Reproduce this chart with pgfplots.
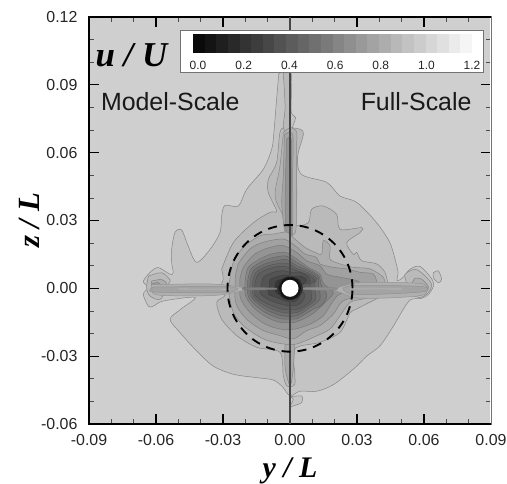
\documentclass[border=0pt]{standalone}
\usepackage{fontspec}
\setmainfont{Liberation Sans}
\newfontfamily\tnr{Liberation Serif}
\usepackage{pgfplots}
\pgfplotsset{compat=1.18}
\pgfplotsset{lv/.style n args={2}{smooth,tension=0.5,fill=black!#1,draw=black!#2,line width=0.5pt}}
\begin{document}
\begin{tikzpicture}[x=1bp,y=1bp]
\path[use as bounding box] (-89,-60) rectangle (418,424);
\begin{axis}[at={(0,0)},anchor=south west,scale only axis,width=402bp,height=407bp,
 xmin=-0.09,xmax=0.09,ymin=-0.06,ymax=0.12,
 xtick={-0.09,-0.06,-0.03,0,0.03,0.06,0.09},
 ytick={-0.06,-0.03,0,0.03,0.06,0.09,0.12},
 minor tick num=2,tick align=inside,tick pos=both,
 major tick length=10bp,minor tick length=5bp,
 axis line style={line width=1.3pt},
 major tick style={line width=1.2pt,black},minor tick style={line width=0.7pt,black!70},
 scaled ticks=false,
 xticklabel pos=bottom,yticklabel pos=left,
 /pgf/number format/.cd,fixed,fixed zerofill,precision=2,assume math mode=true,/pgfplots/.cd,
 tick label style={font=\fontsize{16}{16}\selectfont,text=black!85},
 x tick label style={yshift=-7bp},
 y tick label style={xshift=-8bp},
 xlabel={\tnr\bfseries\itshape y / L},ylabel={\tnr\bfseries\itshape z / L},
 xlabel style={font=\fontsize{30}{30}\selectfont,at={(axis description cs:0.5,-0.114)},anchor=center},
 ylabel style={font=\fontsize{31}{31}\selectfont,at={(axis description cs:-0.148,0.5)},anchor=center,rotate=0},
 axis background/.style={fill=black!19},
 clip=true]
% outer contour
\addplot[lv={23}{48}] coordinates {(-.005,.095)(-.006,.0836)(-.0072,.069)(-.0082,.0615)(-.012,.0526)(-.0194,.0438)(-.0231,.0364)(-.0291,.0367)(-.0306,.032)(-.0313,.0248)(-.0358,.0172)(-.0418,.0115)(-.0456,.0187)(-.0485,.0258)(-.0515,.0247)(-.053,.0172)(-.053,.0115)(-.0523,.007)(-.0537,.0062)(-.059,.0092)(-.0627,.007)(-.0657,.003)(-.0634,.0004)(-.0657,-.0026)(-.0634,-.0079)(-.0612,-.0079)(-.0567,-.0056)(-.0425,-.004)(-.049,-.0093)(-.0537,-.0137)(-.0493,-.0195)(-.0418,-.0277)(-.0343,-.0344)(-.0254,-.038)(-.0149,-.0395)(-.0076,-.0405)(-.0035,-.0434)(0,-.0475)(.0045,-.0455)(.012,-.0455)(.0194,-.0426)(.0284,-.0357)(.0343,-.03)(.0403,-.0254)(.0463,-.0167)(.0507,-.0093)(.054,-.005)(.059,-.0044)(.062,-.0027)(.0642,.0009)(.0636,.004)(.0582,.0097)(.0537,.0084)(.0507,.0049)(.048,.0034)(.0484,.007)(.0478,.0099)(.0448,.02)(.0388,.029)(.0299,.038)(.0224,.0408)(.0164,.0469)(.0045,.051)(.0036,.0644)(.0058,.069)(.001,.07)(.0025,.0755)(.0005,.0785)(.0005,.095)(-.005,.095)};
\addplot[lv={23}{48}] coordinates {(0,-.048)(.0052,-.0476)(.0052,-.0505)(.0015,-.052)(0,-.0523)(.0015,-.049)(0,-.048)};
\addplot[lv={23}{48}] coordinates {(.0642,.0069)(.0664,.0077)(.0679,.004)(.0664,.0025)(.0642,.0047)(.0642,.0069)};
% second contour
\addplot[lv={27}{48}] coordinates {(-.0306,.0084)(-.0254,.0202)(-.0164,.029)(-.009,.0336)(-.006,.0342)(-.0097,.0423)(-.0097,.0482)(-.006,.0556)(-.0045,.0689)(-.0022,.0711)(.0045,.0704)(.006,.0681)(.0037,.06)(.003,.0519)(.003,.0394)(.0022,.0283)(.0082,.029)(.0097,.035)(.0149,.0364)(.0209,.0327)(.0224,.0261)(.0321,.0268)(.0313,.0246)(.0254,.0202)(.0284,.015)(.0299,.0159)(.0321,.0122)(.0388,.0108)(.0425,.0071)(.044,.0019)(.0463,-.0025)(.0403,-.004)(.0299,-.0091)(.0269,-.0109)(.0224,-.0195)(.0134,-.0239)(.0022,-.0268)(.0022,-.0386)(.0022,-.0423)(.0007,-.0434)(-.0015,-.0431)(-.003,-.0386)(-.0045,-.0283)(-.0149,-.0261)(-.0239,-.0209)(-.0306,-.0136)(-.0328,-.0062)(-.0291,-.0032)(-.0313,-.0003)(-.0299,.0041)(-.0306,.0084)};
\addplot[lv={27}{48}] coordinates {(-.003,.095)(-.0022,.08)(-.003,.071)(0,.071)(0,.095)(-.003,.095)};
% wake end blobs
\addplot[lv={27}{48}] coordinates {(-.0634,.0054)(-.0575,.0069)(-.0537,.0037)(-.0545,.0018)(-.058,-.0048)(-.0627,-.0034)(-.0642,.0003)(-.0634,.0054)};
\addplot[lv={32}{50}] coordinates {(-.062,.0032)(-.0575,.0039)(-.0552,.0018)(-.0575,-.0019)(-.0613,-.0019)(-.062,.0032)};
\addplot[lv={38}{52}] coordinates {(-.062,.0018)(-.059,.0025)(-.0575,.0003)(-.0602,-.0012)(-.062,.0018)};
\addplot[lv={27}{48}] coordinates {(.0522,.0025)(.0515,.0062)(.0559,.0084)(.0597,.0062)(.0634,.0018)(.0619,-.0019)(.0582,-.0041)(.0537,-.002)(.0522,.0025)};
\addplot[lv={32}{50}] coordinates {(.0545,.0018)(.056,.0045)(.059,.004)(.062,.0006)(.0597,-.0019)(.056,-.0012)(.0545,.0018)};
% vertical spike
\addplot[lv={30}{46}] coordinates {(-.003,.0689)(-.0045,.054)(-.0067,.0409)(-.003,.032)(0,.025)(.0025,.025)(.003,.04)(.0028,.06)(.003,.069)(0,.071)(-.003,.0689)};
\addplot[lv={35}{48}] coordinates {(-.0025,.068)(-.003,.05)(-.0037,.038)(-.0025,.026)(0,.02)(.0012,.026)(.0012,.05)(.0012,.068)(-.0025,.068)};
\addplot[lv={42}{50}] coordinates {(-.0015,.066)(-.002,.05)(-.0022,.035)(-.0015,.02)(0,.014)(.0006,.02)(.0006,.05)(.0006,.066)(-.0015,.066)};
\addplot[lv={33}{48}] coordinates {(-.0022,-.024)(-.0022,-.035)(-.0005,-.042)(.0005,-.042)(.0015,-.035)(.0018,-.024)(-.0022,-.024)};
% inner contours
\addplot[lv={32}{48}] coordinates {(-.0269,.0041)(-.0254,.0115)(-.0209,.0181)(-.0134,.0233)(-.0075,.024)(-.0015,.0248)(.0022,.0218)(.0067,.0181)(.0112,.0159)(.0142,.0152)(.0149,.0211)(.0179,.0189)(.0179,.013)(.0224,.0108)(.0284,.0093)(.0358,.0086)(.0418,.0049)(.0425,.0012)(.0403,-.0025)(.0328,-.0047)(.0269,-.0062)(.0224,-.0121)(.0179,-.018)(.0104,-.0217)(.003,-.0246)(-.003,-.0246)(-.0119,-.0224)(-.0209,-.0165)(-.0254,-.0106)(-.0269,-.0047)(-.0276,-.0003)(-.0269,.0041)};
\addplot[lv={37}{50}] coordinates {(-.0246,.0041)(-.0231,.0108)(-.0179,.0174)(-.0119,.0204)(-.003,.0218)(.0022,.0189)(.0067,.0152)(.0119,.0137)(.0134,.0108)(.0194,.0093)(.0254,.0086)(.0313,.0071)(.0373,.0063)(.0388,.0019)(.0358,-.0018)(.0239,-.0055)(.0194,-.0114)(.0134,-.0165)(.0075,-.0187)(.0015,-.0224)(-.0045,-.0209)(-.0119,-.0187)(-.0187,-.0143)(-.0231,-.0091)(-.0246,-.0047)(-.0246,-.0003)(-.0246,.0041)};
\addplot[lv={42}{52}] coordinates {(-.0224,.0041)(-.0209,.0093)(-.0157,.0152)(-.009,.0181)(-.003,.0189)(.003,.0159)(.0075,.0122)(.0134,.01)(.0164,.0063)(.0224,.0049)(.0299,.0034)(.0313,.0012)(.0224,-.0025)(.0194,-.0055)(.0149,-.0121)(.009,-.0158)(.0022,-.018)(-.0045,-.018)(-.0112,-.0158)(-.0172,-.0114)(-.0209,-.0069)(-.0224,-.0032)(-.0224,.0041)};
\addplot[lv={47}{56}] coordinates {(-.0201,.0034)(-.0187,.0093)(-.0134,.013)(-.0082,.0152)(-.0022,.0159)(.003,.013)(.0082,.0093)(.0134,.0063)(.0149,.0022)(.0194,-.0018)(.0164,-.0055)(.0119,-.0099)(.0075,-.0128)(.0022,-.015)(-.0045,-.015)(-.0104,-.0128)(-.0157,-.0091)(-.0187,-.0055)(-.0201,-.0025)(-.0201,.0034)};
\addplot[lv={52}{60}] coordinates {(-.019,.003)(-.0175,.0085)(-.0123,.012)(-.007,.0137)(-.0018,.0143)(.003,.0115)(.0082,.0085)(.013,.0056)(.0138,.002)(.0165,-.003)(.0142,-.0075)(.0105,-.0092)(.005,-.0125)(.003,-.0135)(-.004,-.0135)(-.01,-.0113)(-.015,-.008)(-.018,-.0048)(-.019,-.0022)(-.019,.003)};
\addplot[lv={56}{63}] coordinates {(-.0179,.0027)(-.0164,.0078)(-.0112,.0108)(-.006,.0122)(-.0015,.0127)(.003,.01)(.0082,.0078)(.0127,.0049)(.0127,.0019)(.0134,-.0047)(.009,-.0084)(.003,-.0121)(-.0037,-.0121)(-.0097,-.0099)(-.0142,-.0069)(-.0172,-.004)(-.0179,-.0018)(-.0179,.0027)};
\addplot[lv={60}{66}] coordinates {(-.0168,.0025)(-.0153,.007)(-.0105,.0097)(-.0052,.011)(-.001,.011)(.003,.0088)(.0082,.0068)(.012,.0042)(.0108,.0017)(.0115,-.0047)(.0078,-.008)(.003,-.0107)(-.0033,-.0107)(-.009,-.0088)(-.0135,-.0062)(-.0165,-.0034)(-.0168,-.0016)(-.0168,.0025)};
\addplot[lv={63}{69}] coordinates {(-.0157,.0024)(-.0142,.0063)(-.0097,.0086)(-.0045,.0097)(-.0007,.0093)(.003,.0078)(.0082,.0059)(.0112,.0034)(.009,.0015)(.0097,-.0047)(.0067,-.0077)(.003,-.0094)(-.003,-.0094)(-.0082,-.0077)(-.0127,-.0055)(-.0157,-.0029)(-.0157,-.0015)(-.0157,.0024)};
\addplot[lv={67}{72}] coordinates {(-.0127,.0019)(-.0119,.0049)(-.0075,.0071)(-.003,.0078)(0,.0071)(.0045,.0071)(.0082,.0049)(.009,.0024)(.0045,.0012)(.0067,-.0032)(.0052,-.0062)(.0022,-.0077)(-.0022,-.0074)(-.0075,-.0059)(-.0112,-.004)(-.0134,-.0021)(-.0127,.0019)};
\addplot[lv={72}{76}] coordinates {(-.009,.0015)(-.009,.0038)(-.0052,.0053)(-.0022,.0059)(.0007,.0053)(.0052,.0053)(.0075,.0034)(.0052,.0015)(.0045,-.0025)(.0037,-.0047)(.0015,-.0059)(-.0022,-.0055)(-.006,-.004)(-.0097,-.0025)(-.009,.0015)};
\addplot[lv={78}{80}] coordinates {(-.0067,.0012)(-.006,.0032)(-.003,.0041)(0,.0044)(.0037,.0041)(.0048,.0024)(.0033,-.0003)(.0033,-.0018)(.0027,-.0035)(.0007,-.004)(-.0022,-.0035)(-.0052,-.0025)(-.0067,-.001)(-.0067,.0012)};
% wake
\addplot[lv={31}{42}] coordinates {(-.062,.0016)(-.04,.002)(-.03,.0016)(-.022,.0005)(-.02,-.0003)(-.022,-.0012)(-.03,-.0028)(-.04,-.0033)(-.06,-.0028)(-.062,.0016)};
\addplot[lv={31}{42}] coordinates {(.022,.0005)(.03,.0024)(.045,.0026)(.06,.0018)(.06,-.0028)(.045,-.0042)(.03,-.0042)(.022,-.0016)(.02,-.0005)(.022,.0005)};
\addplot[lv={36}{43}] coordinates {(-.061,.0006)(-.03,.0008)(-.024,.0002)(-.024,-.0007)(-.03,-.002)(-.061,-.0016)(-.061,.0006)};
\addplot[lv={36}{43}] coordinates {(.024,.0003)(.03,.0013)(.059,.0008)(.059,-.0016)(.03,-.0028)(.024,-.0008)(.024,.0003)};
\addplot[lv={50}{54}] coordinates {(-.021,.0003)(-.014,.0003)(-.006,.0001)(-.006,-.0004)(-.014,-.0007)(-.021,-.0005)(-.021,.0003)};
\addplot[lv={44}{48}] coordinates {(.021,.0002)(.014,.0004)(.006,.0002)(.006,-.0004)(.014,-.0008)(.021,-.0005)(.021,.0002)};
\addplot[black!25,line width=0.6pt] coordinates {(-.05,-.0003)(-.027,-.0004)};
\addplot[black!25,line width=0.6pt] coordinates {(.027,-.0002)(.05,-.0003)};
% near the cylinder
\addplot[lv={82}{84}] coordinates {(-.0056,0)(-.004,.0036)(0,.0052)(.004,.0036)(.0056,0)(.004,-.0036)(0,-.0052)(-.004,-.0036)(-.0056,0)};
\addplot[black!72,line width=1.1pt] coordinates {(0,-.06)(0,.12)};
\addplot[lv={92}{92}] coordinates {(-.0048,0)(-.0034,.0034)(0,.0049)(.0034,.0034)(.0048,0)(.0034,-.0034)(0,-.0049)(-.0034,-.0034)(-.0048,0)};
\fill[white] (axis cs:0,0) circle (8.5bp);
\draw[black,line width=1.9pt,dash pattern=on 9bp off 7bp] (axis cs:0,0) ellipse [x radius=62.5bp,y radius=63.3bp];
\end{axis}
% lighter right-hand spine
\draw[white,line width=1.4pt] (402,-0.6) -- (402,407.6);
\draw[black!55,line width=0.9pt] (402,-0.6) -- (402,407.6);
\draw[black,line width=1.2pt] (392,0) -- (402,0) (392,407) -- (402,407);
% legend
\fill[white,draw=black!55,line width=0.8pt] (91,352) rectangle (394,394);
\foreach \i in {0,...,23}{
 \pgfmathsetmacro\d{96-4*\i}
 \pgfmathsetmacro\xa{104+11.625*\i}
 \pgfmathsetmacro\xb{104+11.625*(\i+1)}
 \fill[black!\d] (\xa,371) rectangle (\xb,390);
}
\foreach \v/\t in {109/0.0,154.7/0.2,200.4/0.4,246.1/0.6,291.8/0.8,337.5/1.0,383/1.2}{
 \node[font=\fontsize{12}{12}\selectfont,text=black!85] at (\v,359) {\t};
}
\node[font=\tnr\bfseries\itshape\fontsize{35}{35}\selectfont] at (42.5,369) {u / U};
\node[font=\fontsize{25}{25}\selectfont,text=black!90,anchor=west] at (8.5,322) {Model-Scale};
\node[font=\fontsize{25}{25}\selectfont,text=black!90,anchor=east] at (386,322) {Full-Scale};
\end{tikzpicture}
\end{document}
